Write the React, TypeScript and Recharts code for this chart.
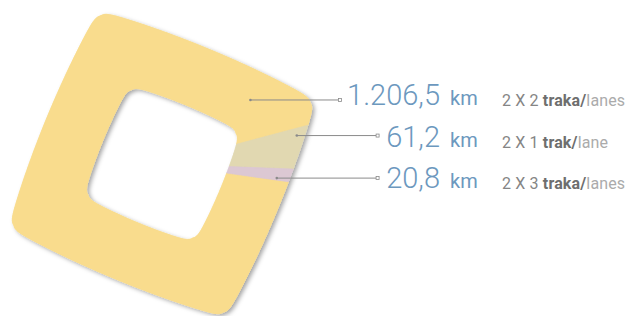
import React from 'react';
import { PieChart, Pie, Cell } from 'recharts';

// ---- data ----
const laneConfigs = ['2 X 2', '2 X 1', '2 X 3'];
const lengthsKm = [1206.5, 61.2, 20.8];
const laneWordHr = ['traka/', 'trak/', 'traka/'];
const laneWordEn = ['lanes', 'lane', 'lanes'];
const unitLabel = 'km';

// ---- styles ----
const COLORS = ['#f9dc8d', '#e1d8b1', '#dcc8d3'];
const NUM_COLOR = '#6c98be';
const LINE_COLOR = '#8a8a8a';
const ROT = 22.5; // rotation of the rounded square (deg, clockwise on screen)
const K = 0.06; // edge bulge

const data = lengthsKm.map((v, i) => ({ name: laneConfigs[i], value: v }));

function formatHr(v: number): string {
  const [intPart, dec] = v.toFixed(1).split('.');
  const withDots = intPart.replace(/\B(?=(\d{3})+(?!\d))/g, '.');
  return `${withDots},${dec}`;
}

const RAD = Math.PI / 180;
function shapeR(thetaDeg: number, s: number, p: number): number {
  const psi = -thetaDeg;
  const phi = (psi - ROT) * RAD;
  const c = Math.abs(Math.cos(phi));
  const sn = Math.abs(Math.sin(phi));
  const d = Math.pow(Math.pow(c, p) + Math.pow(sn, p), 1 / p);
  const t = Math.min(c, sn) / Math.max(c, sn);
  const bulge = 1 + K * (1 - t * t);
  return (s * bulge) / d;
}
const P_OUT = 22;
const P_IN = 12;
function pt(cx: number, cy: number, thetaDeg: number, r: number) {
  return { x: cx + r * Math.cos(-thetaDeg * RAD), y: cy + r * Math.sin(-thetaDeg * RAD) };
}

const SquareSector = (props: any) => {
  const { cx, cy, innerRadius, outerRadius, startAngle, endAngle, fill } = props;
  const span = endAngle - startAngle;
  const n = Math.max(2, Math.ceil(Math.abs(span) / 0.5));
  const outer: string[] = [];
  const inner: string[] = [];
  for (let i = 0; i <= n; i++) {
    const a = startAngle + (span * i) / n;
    const po = pt(cx, cy, a, shapeR(a, outerRadius, P_OUT));
    outer.push(`${po.x.toFixed(2)},${po.y.toFixed(2)}`);
    const pi = pt(cx, cy, a, shapeR(a, innerRadius, P_IN));
    inner.push(`${pi.x.toFixed(2)},${pi.y.toFixed(2)}`);
  }
  inner.reverse();
  const d = `M${outer.join('L')}L${inner.join('L')}Z`;
  return <path d={d} fill={fill} stroke={fill} strokeWidth={0.6} />;
};

const numWidth = (s: string) =>
  s.split('').reduce((w, ch) => w + (/\d/.test(ch) ? 15.8 : 6), 0);

const renderLabel = (props: any) => {
  const { cx, cy, startAngle, endAngle, innerRadius, outerRadius, index } = props;
  let ang = endAngle + 1;
  let frac = 0.8;
  if (index === 0) {
    ang = endAngle + 21;
    frac = 0.52;
  } else if (index === 1) {
    ang = startAngle - 3;
    frac = 0.88;
  }
  const ri = shapeR(ang, innerRadius, P_IN);
  const ro = shapeR(ang, outerRadius, P_OUT);
  const p = pt(cx, cy, ang, ri + frac * (ro - ri));
  const numText = formatHr(lengthsKm[index]);
  const numRight = 440;
  const lineEnd = numRight - numWidth(numText) - 9;
  const base = 105 + index * 41.5;
  return (
    <g>
      <circle cx={p.x} cy={p.y} r={1.3} fill={LINE_COLOR} />
      <line x1={p.x} y1={p.y} x2={lineEnd - 1.5} y2={p.y} stroke={LINE_COLOR} strokeWidth={1} />
      <rect x={lineEnd - 1.5} y={p.y - 1.5} width={3} height={3} fill="#fff" stroke={LINE_COLOR} strokeWidth={0.8} />
      <text x={numRight} y={base} textAnchor="end" fontFamily="Roboto" fontWeight={300} fontSize={29} fill={NUM_COLOR}>
        {numText}
      </text>
      <text x={450} y={base} fontFamily="Roboto" fontWeight={400} fontSize={20} fill={NUM_COLOR}>
        {unitLabel}
      </text>
      <text x={502} y={base + 1} fontFamily="Roboto" fontSize={16} letterSpacing={0.15}>
        <tspan fill="#858585">{`${laneConfigs[index]} `}</tspan>
        <tspan fill="#6e6e6e" fontWeight={700}>{laneWordHr[index]}</tspan>
        <tspan fill="#ababab">{laneWordEn[index]}</tspan>
      </text>
    </g>
  );
};

const pieCommon = {
  data,
  dataKey: 'value',
  nameKey: 'name',
  cx: 162,
  cy: 164,
  innerRadius: 60,
  outerRadius: 117,
  startAngle: 352,
  endAngle: -8,
  paddingAngle: 0,
  stroke: 'none',
  isAnimationActive: false,
  shape: SquareSector,
  activeShape: SquareSector,
  inactiveShape: SquareSector,
};

export default function App() {
  return (
    <div style={{ width: 630, height: 316, background: '#fff' }}>
      <style>{`body{margin:0} .pie-shadow{filter:url(#sqShadow)}`}</style>
      <PieChart width={630} height={316} margin={{ top: 0, right: 0, bottom: 0, left: 0 }}>
        <defs>
          <filter id="sqShadow" x="-20%" y="-20%" width="140%" height="140%">
            <feDropShadow dx={2.5} dy={2} stdDeviation={2} floodColor="#000" floodOpacity={0.35} />
          </filter>
        </defs>
        <Pie {...(pieCommon as any)} className="pie-shadow" label={false} labelLine={false}>
          {data.map((d, i) => (
            <Cell key={d.name} fill={COLORS[i]} />
          ))}
        </Pie>
        <Pie {...(pieCommon as any)} label={renderLabel} labelLine={false}>
          {data.map((d, i) => (
            <Cell key={d.name} fill={COLORS[i]} />
          ))}
        </Pie>
      </PieChart>
    </div>
  );
}
